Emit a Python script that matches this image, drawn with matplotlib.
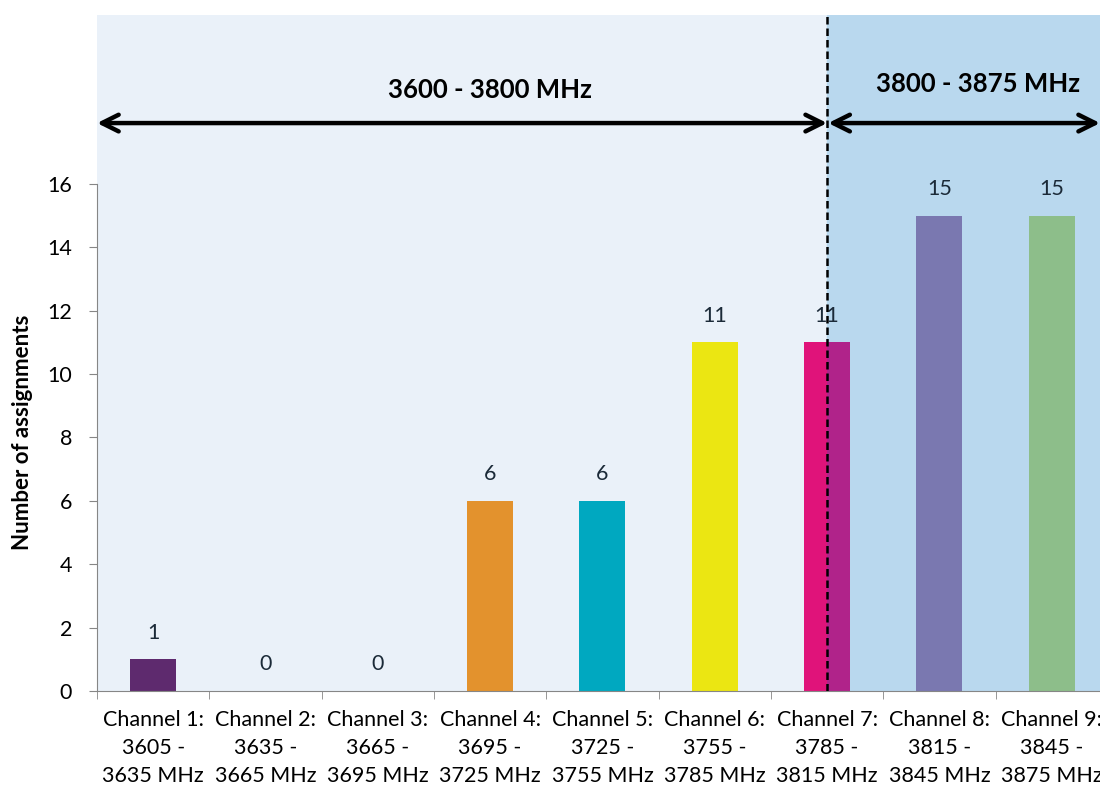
import matplotlib
matplotlib.use("Agg")
import matplotlib.pyplot as plt
import numpy as np

# channel data
channels = ["Channel 1:\n3605 -\n3635 MHz", "Channel 2:\n3635 -\n3665 MHz",
            "Channel 3:\n3665 -\n3695 MHz", "Channel 4:\n3695 -\n3725 MHz",
            "Channel 5:\n3725 -\n3755 MHz", "Channel 6:\n3755 -\n3785 MHz",
            "Channel 7:\n3785 -\n3815 MHz", "Channel 8:\n3815 -\n3845 MHz",
            "Channel 9:\n3845 -\n3875 MHz"]
assignments = [1, 0, 0, 6, 6, 11, 11, 15, 15]
bar_colors = ["#5E2A6E", "#5E2A6E", "#5E2A6E", "#E3922D", "#00A8C0",
              "#EBE612", "#E0137A", "#7A78B0", "#8DBE8A"]
band_labels = ["3600 - 3800 MHz", "3800 - 3875 MHz"]

plt.rcParams['font.family'] = ['Lato', 'DejaVu Sans']

fig = plt.figure(figsize=(11, 7.89), dpi=100)
ax = fig.add_axes([0.0882, 0.1242, 0.919, 0.8568])

x = np.arange(len(channels))
w = 0.41
ax.set_xlim(-0.5, len(channels) - 0.5)
ax.set_ylim(0, 21.33)

ax.set_facecolor("#EAF1F9")
split = 6.0  # 3800 MHz sits in the middle of channel 7
ax.axvspan(split, len(channels) - 0.5, color="#B9D8EE", zorder=0)

bars = ax.bar(x, assignments, width=w, color=bar_colors, zorder=2)
# right half of channel 7 lies in the upper band -> darker tint
ax.bar(x[6] + w / 4, assignments[6], width=w / 2, color="#B0238A", zorder=2)

for xi, v in zip(x, assignments):
    ax.annotate(str(v), (xi, v), xytext=(0, 12), textcoords="offset points",
                ha="center", va="bottom", fontsize=15.5, color="#1B2A38")

ax.axvline(split, color="black", ls=(0, (3, 1.6)), lw=1.8, zorder=3)

# band arrows
arrow_y = 17.92
ax.annotate("", xy=(-0.5, arrow_y), xytext=(split, arrow_y),
            arrowprops=dict(arrowstyle="<->", lw=3.2, color="black",
                            mutation_scale=30, shrinkA=0, shrinkB=0), zorder=4)
ax.annotate("", xy=(split + 0.01, arrow_y), xytext=(8.43, arrow_y),
            arrowprops=dict(arrowstyle="<->", lw=3.2, color="black",
                            mutation_scale=30, shrinkA=0, shrinkB=0), zorder=4)
ax.text(3.0, 18.97, band_labels[0], ha="center", va="center",
        fontsize=18.5, fontweight="bold")
ax.text(7.34, 19.15, band_labels[1], ha="center", va="center",
        fontsize=18.5, fontweight="bold")

# axes styling
for s in ["top", "right"]:
    ax.spines[s].set_visible(False)
ax.spines["left"].set_bounds(0, 16)
ax.spines["left"].set_color("#868686")
ax.spines["bottom"].set_color("#868686")
ax.set_yticks(range(0, 17, 2))
ax.tick_params(axis="y", direction="out", length=6, color="#868686",
               pad=12, labelsize=15.5)
ax.set_xticks(x)
ax.set_xticklabels(channels, fontsize=15.5, linespacing=1.5)
ax.set_xticks(np.arange(-0.5, len(channels), 1), minor=True)
ax.tick_params(axis="x", which="major", length=0, pad=14)
ax.tick_params(axis="x", which="minor", direction="out", length=6,
               color="#868686")
ax.set_ylabel("Number of assignments", fontsize=16, fontweight="bold")
ax.yaxis.set_label_coords(-0.063, 0.383)

fig.savefig("out.png", dpi=100)
